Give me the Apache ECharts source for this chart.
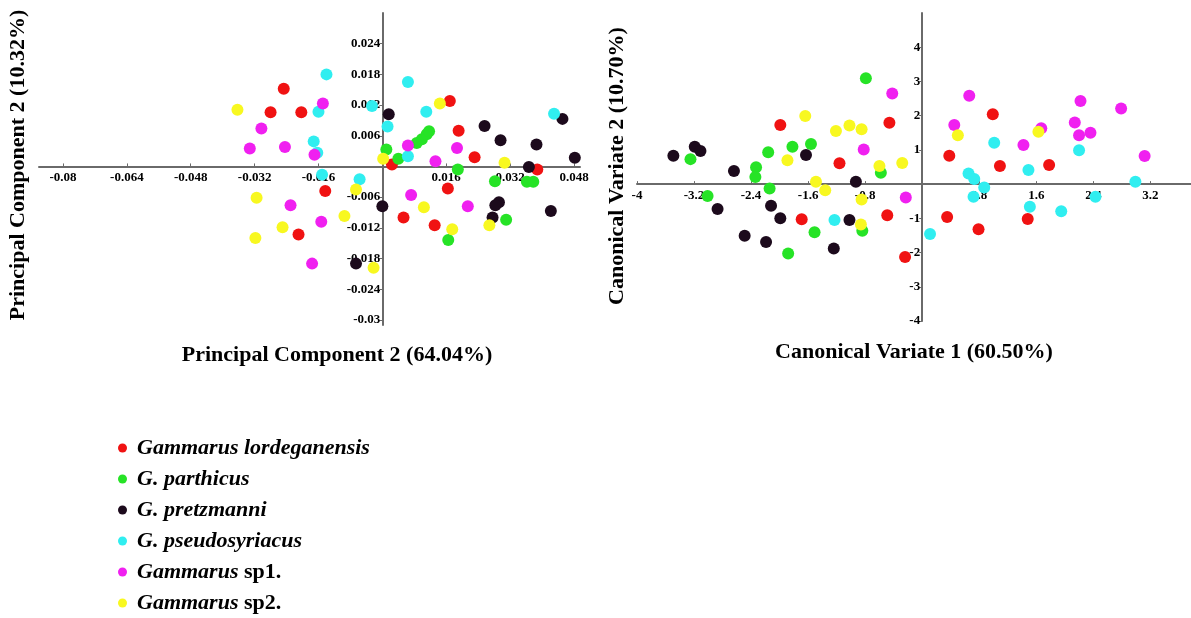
<!DOCTYPE html>
<html>
<head>
<meta charset="utf-8">
<script src="https://cdn.jsdelivr.net/npm/echarts@6/dist/echarts.min.js"></script>
<style>
html,body{margin:0;padding:0;background:#fff;}
#c{width:1191px;height:618px;}
</style>
</head>
<body>
<div id="c"></div>
<script>
// ---- Species ----
var speciesNames = ['Gammarus lordeganensis','G. parthicus','G. pretzmanni','G. pseudosyriacus','Gammarus sp1.','Gammarus sp2.'];
var speciesColors = ['#f01212','#26e326','#1c0a1c','#30eef0','#f020f0','#f8f820'];

// ---- PCA (left) tick labels ----
var pcaXTicks = [-0.08,-0.064,-0.048,-0.032,-0.016,0.016,0.032,0.048];
var pcaYTicks = [0.024,0.018,0.012,0.006,-0.006,-0.012,-0.018,-0.024,-0.03];

// ---- CVA (right) tick labels ----
var cvaXTicks = [-4,-3.2,-2.4,-1.6,-0.8,0.8,1.6,2.4,3.2];
var cvaYTicks = [4,3,2,1,-1,-2,-3,-4];

// ---- PCA scores ----
var pcaLordeganensis = [[-0.0247,0.0152],[-0.028,0.0106],[-0.0203,0.0106],[0.0024,0.0004],[0.0169,0.0128],[0.0191,0.007],[0.0231,0.0018],[0.0388,-0.0006],[0.0164,-0.0043],[0.0053,-0.01],[0.0131,-0.0115],[-0.0143,-0.0048],[-0.021,-0.0133]];
var pcaParthicus = [[0.001,0.0033],[0.004,0.0015],[0.0086,0.0046],[0.0099,0.0053],[0.0111,0.0063],[0.0117,0.0069],[0.0189,-0.0006],[0.0282,-0.0029],[0.0362,-0.003],[0.0378,-0.003],[0.031,-0.0104],[0.0165,-0.0144]];
var pcaPretzmanni = [[0.0016,0.0102],[0.0256,0.0079],[0.0296,0.0051],[0.0386,0.0043],[0.0451,0.0093],[0.0482,0.0017],[0.0367,-0.0001],[0.0292,-0.007],[0.0283,-0.0076],[0.0422,-0.0087],[0.0276,-0.01],[0,-0.0078],[-0.0066,-0.019]];
var pcaPseudosyriacus = [[-0.014,0.018],[-0.016,0.0107],[-0.0172,0.0049],[-0.0163,0.0027],[-0.0026,0.0118],[0.0013,0.0078],[0.0064,0.0165],[0.011,0.0107],[0.0064,0.002],[0.043,0.0103],[-0.0151,-0.0016],[-0.0057,-0.0025]];
var pcaSp1 = [[-0.0149,0.0123],[-0.0303,0.0074],[-0.0332,0.0035],[-0.0244,0.0038],[-0.017,0.0023],[0.0064,0.0041],[0.0187,0.0036],[0.0133,0.001],[0.0072,-0.0056],[0.0214,-0.0078],[-0.023,-0.0076],[-0.0153,-0.0108],[-0.0176,-0.019]];
var pcaSp2 = [[-0.0363,0.0111],[0.0002,0.0015],[0.0144,0.0123],[0.0306,0.0007],[0.0104,-0.008],[0.0268,-0.0115],[0.0175,-0.0123],[-0.0066,-0.0045],[-0.0315,-0.0061],[-0.0095,-0.0097],[-0.025,-0.0119],[-0.0318,-0.014],[-0.0022,-0.0198]];

// ---- CVA scores ----
var cvaLordeganensis = [[-1.99,1.73],[-1.69,-1.03],[-1.16,0.61],[-0.46,1.79],[-0.49,-0.91],[-0.24,-2.13],[0.99,2.04],[0.38,0.83],[1.09,0.53],[1.78,0.56],[0.35,-0.96],[0.79,-1.32],[1.48,-1.02]];
var cvaParthicus = [[-3.25,0.73],[-3.01,-0.35],[-2.33,0.49],[-2.34,0.21],[-2.16,0.93],[-2.14,-0.13],[-1.88,-2.03],[-1.82,1.09],[-1.56,1.17],[-1.51,-1.41],[-0.84,-1.36],[-0.79,3.09],[-0.58,0.33]];
var cvaPretzmanni = [[-3.49,0.83],[-3.19,1.09],[-3.11,0.97],[-2.87,-0.73],[-2.64,0.38],[-2.12,-0.63],[-1.99,-1.0],[-2.49,-1.51],[-2.19,-1.69],[-1.63,0.85],[-1.24,-1.88],[-1.02,-1.05],[-0.93,0.07]];
var cvaPseudosyriacus = [[-1.23,-1.05],[1.01,1.21],[0.65,0.31],[0.73,0.15],[0.87,-0.1],[0.72,-0.37],[1.49,0.41],[2.2,0.99],[2.99,0.07],[2.43,-0.37],[1.51,-0.66],[1.95,-0.79],[0.11,-1.46]];
var cvaSp1 = [[-0.82,1.01],[-0.42,2.65],[-0.23,-0.39],[0.66,2.58],[0.45,1.73],[1.42,1.14],[1.67,1.63],[2.14,1.8],[2.22,2.43],[2.2,1.43],[2.36,1.5],[2.79,2.21],[3.12,0.82]];
var cvaSp2 = [[-1.64,1.99],[-1.89,0.7],[-1.49,0.07],[-1.36,-0.18],[-1.21,1.55],[-1.02,1.71],[-0.85,1.6],[-0.85,-0.45],[-0.86,-1.18],[-0.6,0.53],[-0.28,0.62],[0.5,1.43],[1.63,1.53]];

var pcaData = [pcaLordeganensis,pcaParthicus,pcaPretzmanni,pcaPseudosyriacus,pcaSp1,pcaSp2];
var cvaData = [cvaLordeganensis,cvaParthicus,cvaPretzmanni,cvaPseudosyriacus,cvaSp1,cvaSp2];

var FONT = '"Liberation Serif","Times New Roman",serif';
function fmt(v){ return String(+(+v).toFixed(4)); }

// grid geometry and axis ranges
var G = [
  {left:39, top:13, width:541, height:312, xmin:-0.086, xmax:0.0495, ymin:-0.031, ymax:0.030},
  {left:637, top:13, width:554, height:308, xmin:-4, xmax:3.77, ymin:-4, ymax:5}
];

function xAxisFor(i, ticks){
  var g = G[i];
  // move the axis (line, ticks, labels) up to y = 0
  var off = -g.height * (0 - g.ymin) / (g.ymax - g.ymin);
  return {
    type:'value', gridIndex:i, min:g.xmin, max:g.xmax, position:'bottom', offset:off,
    splitLine:{show:false},
    axisLine:{show:true, onZero:false, lineStyle:{color:'#6a6a6a', width:2}},
    axisTick:{show:true, length:3, inside:true, customValues:ticks, lineStyle:{color:'#6a6a6a', width:1}},
    axisLabel:{show:true, customValues:ticks, formatter:fmt, color:'#000', fontFamily:FONT, fontWeight:'bold', fontSize:13, margin:5}
  };
}
function yAxisFor(i, ticks){
  var g = G[i];
  var off = -g.width * (0 - g.xmin) / (g.xmax - g.xmin);
  return {
    type:'value', gridIndex:i, min:g.ymin, max:g.ymax, position:'left', offset:off,
    splitLine:{show:false},
    axisLine:{show:true, onZero:false, lineStyle:{color:'#6a6a6a', width:2}},
    axisTick:{show:true, length:3, inside:false, customValues:ticks, lineStyle:{color:'#6a6a6a', width:1}},
    axisLabel:{show:true, customValues:ticks, formatter:fmt, color:'#000', fontFamily:FONT, fontWeight:'bold', fontSize:13, margin:2}
  };
}

var series = [];
for (var i=0;i<speciesNames.length;i++){
  series.push({name:speciesNames[i], type:'scatter', xAxisIndex:0, yAxisIndex:0, data:pcaData[i], symbol:'circle', symbolSize:12, itemStyle:{color:speciesColors[i], opacity:1}, z:2});
  series.push({name:speciesNames[i], type:'scatter', xAxisIndex:1, yAxisIndex:1, data:cvaData[i], symbol:'circle', symbolSize:12, itemStyle:{color:speciesColors[i], opacity:1}, z:2});
}

var chart = echarts.init(document.getElementById('c'));
chart.setOption({
  backgroundColor:'#fff',
  animation:false,
  grid:[
    {left:G[0].left, top:G[0].top, width:G[0].width, height:G[0].height},
    {left:G[1].left, top:G[1].top, width:G[1].width, height:G[1].height}
  ],
  xAxis:[ xAxisFor(0,pcaXTicks), xAxisFor(1,cvaXTicks) ],
  yAxis:[ yAxisFor(0,pcaYTicks), yAxisFor(1,cvaYTicks) ],
  legend:{
    orient:'vertical', left:118, top:437, padding:0,
    itemWidth:9, itemHeight:9, itemGap:9, icon:'circle',
    data:speciesNames,
    formatter:function(n){
      if (n.indexOf('sp')>0){ var p=n.split(' '); return '{i|'+p[0]+'} {n|'+p[1]+'}'; }
      return '{i|'+n+'}';
    },
    textStyle:{
      fontFamily:FONT, fontSize:22, fontWeight:'bold', fontStyle:'italic', color:'#000', padding:[0,0,0,5],
      rich:{
        i:{fontFamily:FONT, fontSize:22, fontWeight:'bold', fontStyle:'italic', color:'#000'},
        n:{fontFamily:FONT, fontSize:22, fontWeight:'bold', fontStyle:'normal', color:'#000'}
      }
    }
  },
  graphic:[
    {type:'text', x:337, y:355, style:{text:'Principal Component 2 (64.04%)', font:'bold 22px '+FONT, fill:'#000', textAlign:'center', textVerticalAlign:'middle'}},
    {type:'text', x:18, y:165, rotation:Math.PI/2, style:{text:'Principal Component 2 (10.32%)', font:'bold 22px '+FONT, fill:'#000', textAlign:'center', textVerticalAlign:'middle'}},
    {type:'text', x:914, y:352, style:{text:'Canonical Variate 1 (60.50%)', font:'bold 22px '+FONT, fill:'#000', textAlign:'center', textVerticalAlign:'middle'}},
    {type:'text', x:617, y:166, rotation:Math.PI/2, style:{text:'Canonical Variate 2 (10.70%)', font:'bold 22px '+FONT, fill:'#000', textAlign:'center', textVerticalAlign:'middle'}}
  ],
  series:series
});
</script>
</body>
</html>
